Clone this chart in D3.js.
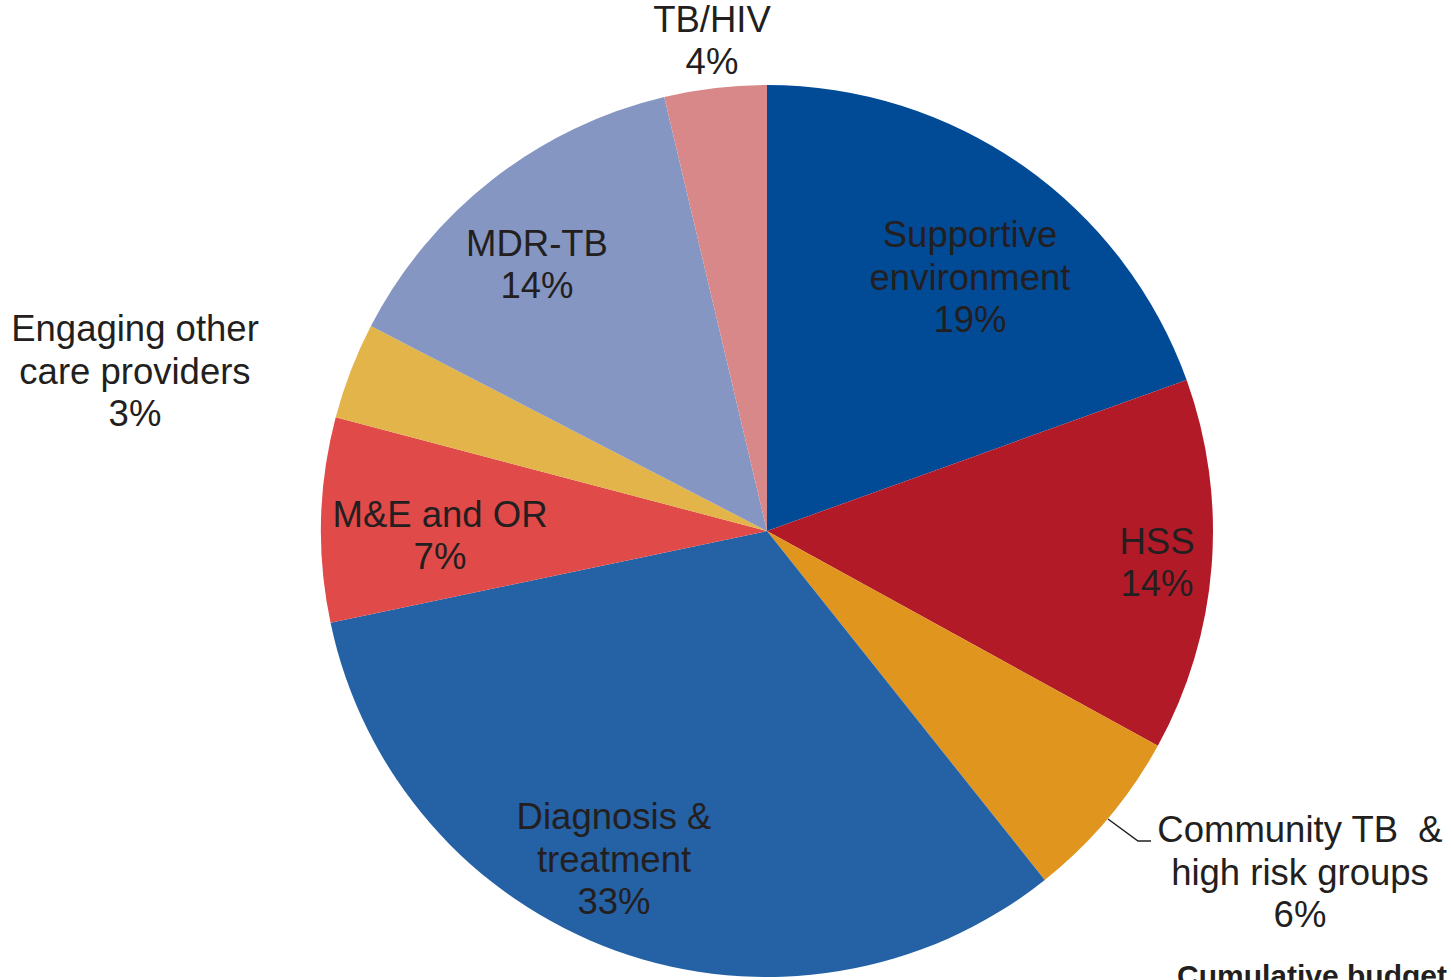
<!DOCTYPE html>
<html>
<head>
<meta charset="utf-8">
<script src="https://cdn.jsdelivr.net/npm/d3@7"></script>
<style>
  body { margin: 0; background: #fff; overflow: hidden; }
  svg text { font-family: "Liberation Sans", Arial, sans-serif; fill: #231F20; }
</style>
</head>
<body>
<script>
// categories, clockwise from 12 o'clock
const categories = ["Supportive environment", "HSS", "Community TB & high risk groups",
  "Diagnosis & treatment", "M&E and OR", "Engaging other care providers", "MDR-TB", "TB/HIV"];
// share of budget (%)
const values = [19.5, 13.5, 6.3, 32.4, 7.4, 3.5, 13.7, 3.7];
// label text lines as printed on the chart
const labelLines = [
  ["Supportive", "environment", "19%"],
  ["HSS", "14%"],
  ["Community TB  &", "high risk groups", "6%"],
  ["Diagnosis &", "treatment", "33%"],
  ["M&E and OR", "7%"],
  ["Engaging other", "care providers", "3%"],
  ["MDR-TB", "14%"],
  ["TB/HIV", "4%"]
];
const colors = ["#014A96", "#B31A28", "#E0951F", "#2561A5", "#E04A48", "#E2B44A", "#8596C2", "#D98889"];

const W = 1451, H = 980;
const cx = 767, cy = 531, R = 446;

const svg = d3.select("body").append("svg")
  .attr("width", W)
  .attr("height", H);

const pie = d3.pie().sort(null).value(d => d);
const arcs = pie(values);
const arc = d3.arc().innerRadius(0).outerRadius(R);

const g = svg.append("g").attr("transform", `translate(${cx},${cy})`);

g.selectAll("path")
  .data(arcs)
  .enter()
  .append("path")
  .attr("d", arc)
  .attr("fill", (d, i) => colors[i]);

// label centres (middle of the text block), in page pixels
const labelPos = [
  [970, 277], [1157, 562], [1300, 872], [614, 859],
  [440, 535], [135, 371], [537, 264], [712, 40]
];
const fs = 36.5, lh = 42.5;

svg.selectAll("text.lbl")
  .data(labelLines)
  .enter()
  .append("text")
  .attr("class", "lbl")
  .attr("font-size", fs + "px")
  .attr("text-anchor", "middle")
  .each(function (lines, i) {
    const t = d3.select(this);
    const top = labelPos[i][1] - (lines.length - 1) * lh / 2 + fs * 0.35;
    lines.forEach((s, k) => {
      t.append("tspan")
        .attr("x", labelPos[i][0])
        .attr("y", top + k * lh)
        .style("white-space", "pre")
        .text(s);
    });
  });

// leader line for the small community slice
svg.append("polyline")
  .attr("points", [[1108, 819], [1138, 841], [1151, 841]].map(p => p.join(",")).join(" "))
  .attr("fill", "none")
  .attr("stroke", "#231F20")
  .attr("stroke-width", 1.5);

// caption that runs off the bottom-right edge, as in the source
svg.append("text")
  .attr("x", 1177)
  .attr("y", 986)
  .attr("font-size", "30px")
  .attr("font-weight", "bold")
  .text("Cumulative budget");
</script>
</body>
</html>
